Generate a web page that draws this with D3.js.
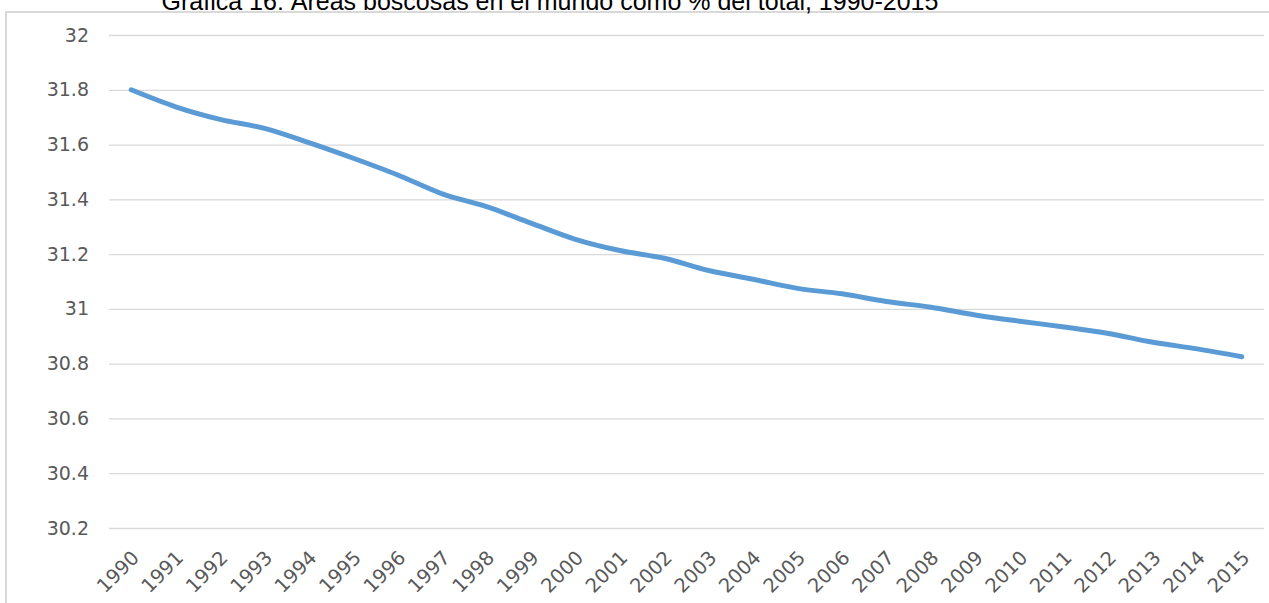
<!DOCTYPE html>
<html>
<head>
<meta charset="utf-8">
<script src="https://cdn.jsdelivr.net/npm/d3@7"></script>
<style>
  html, body { margin: 0; padding: 0; background: #fff; overflow: hidden; }
  svg { display: block; }
</style>
</head>
<body>
<svg id="chart" width="1269" height="603"></svg>
<script>
const title = "Gráfica 16: Áreas boscosas en el mundo como % del total, 1990-2015";
const years = ["1990","1991","1992","1993","1994","1995","1996","1997","1998","1999","2000","2001","2002","2003","2004","2005","2006","2007","2008","2009","2010","2011","2012","2013","2014","2015"];
const forestPct = [31.80,31.738,31.692,31.659,31.607,31.55,31.489,31.42,31.373,31.313,31.254,31.213,31.185,31.14,31.108,31.075,31.055,31.027,31.006,30.978,30.955,30.934,30.91,30.878,30.854,30.825];
const yTicks = [30.2,30.4,30.6,30.8,31,31.2,31.4,31.6,31.8,32];

const svg = d3.select("#chart");

// outer border
svg.append("rect")
  .attr("x", 6).attr("y", 12)
  .attr("width", 1300).attr("height", 700)
  .attr("fill", "none")
  .attr("stroke", "#d9d9d9")
  .attr("stroke-width", 2);

// title (partly above the top edge, as in the reference)
svg.append("text")
  .attr("x", 550).attr("y", 10)
  .attr("text-anchor", "middle")
  .attr("font-family", "'Liberation Sans', Arial, sans-serif")
  .attr("font-size", 25)
  .attr("fill", "#000")
  .text(title);

const x = d3.scaleBand().domain(years).range([109, 1264]).padding(0);
const y = d3.scaleLinear().domain([30.2, 32]).range([528, 35]);

const fontFam = "'DejaVu Sans', sans-serif";

// gridlines + y labels
const yAxis = d3.axisLeft(y)
  .tickValues(yTicks)
  .tickSize(-(1264 - 109))
  .tickPadding(20)
  .tickFormat(d => String(+d.toFixed(1)));

const gy = svg.append("g")
  .attr("transform", "translate(109,0)")
  .call(yAxis);
gy.select(".domain").remove();
gy.selectAll(".tick line").attr("stroke", "#d9d9d9").attr("stroke-width", 1.3);
gy.selectAll(".tick text")
  .attr("font-family", fontFam)
  .attr("font-size", 19)
  .attr("fill", "#595959");

// x axis labels
const xAxis = d3.axisBottom(x).tickSize(0).tickPadding(0);
const gx = svg.append("g")
  .attr("transform", "translate(0,528)")
  .call(xAxis);
gx.select(".domain").remove();
gx.selectAll(".tick text")
  .attr("font-family", fontFam)
  .attr("font-size", 19.5)
  .attr("fill", "#595959")
  .attr("text-anchor", "end")
  .attr("dy", null)
  .attr("y", 0)
  .attr("transform", "translate(9,31) rotate(-45)");

// line
const line = d3.line()
  .x((d, i) => x(years[i]) + x.bandwidth() / 2)
  .y(d => y(d))
  .curve(d3.curveMonotoneX);

svg.append("path")
  .datum(forestPct)
  .attr("d", line)
  .attr("fill", "none")
  .attr("stroke", "#5b9bd5")
  .attr("stroke-width", 5)
  .attr("stroke-linecap", "round")
  .attr("stroke-linejoin", "round");
</script>
</body>
</html>
